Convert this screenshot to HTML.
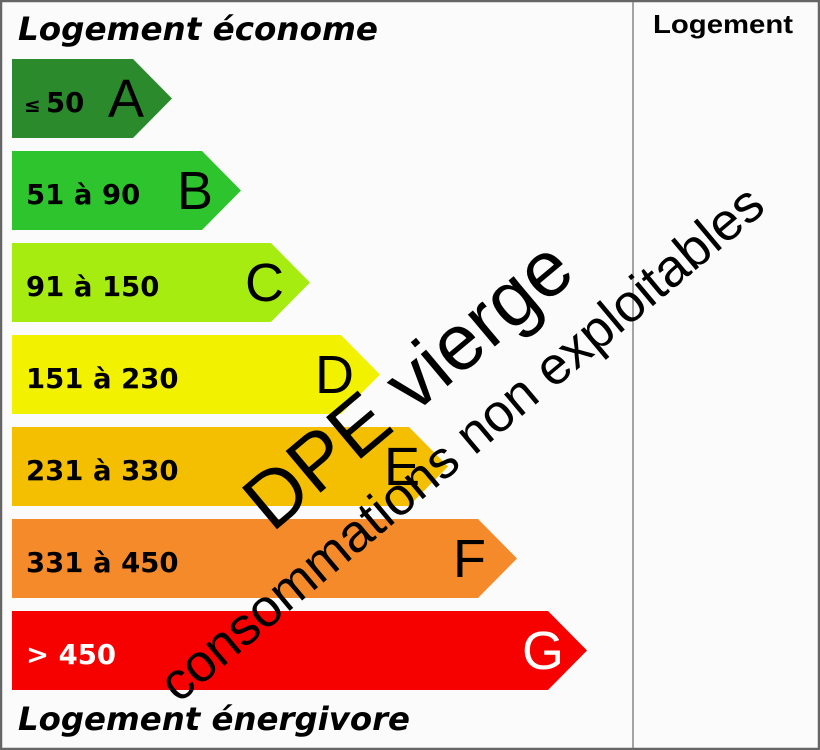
<!DOCTYPE html>
<html><head><style>
html,body{margin:0;padding:0;background:#fff;}
</style></head><body>
<svg width="820" height="750" xmlns="http://www.w3.org/2000/svg" style="display:block">
<rect x="0" y="0" width="820" height="750" fill="#fbfbfb"/>
<rect x="1" y="1" width="818" height="748" fill="none" stroke="#666" stroke-width="2.5"/>
<line x1="633" y1="2" x2="633" y2="748" stroke="#888" stroke-width="1.5"/>
<text x="723" y="33" font-family="Liberation Sans, sans-serif" font-weight="bold" font-size="26" text-anchor="middle" fill="#000" textLength="140" lengthAdjust="spacingAndGlyphs">Logement</text>
<text x="18" y="40" font-family="DejaVu Sans, sans-serif" font-weight="bold" font-style="italic" font-size="32" fill="#000" textLength="360" lengthAdjust="spacingAndGlyphs">Logement économe</text>
<text x="18" y="730" font-family="DejaVu Sans, sans-serif" font-weight="bold" font-style="italic" font-size="32" fill="#000" textLength="392" lengthAdjust="spacingAndGlyphs">Logement énergivore</text>
<g font-family="DejaVu Sans, sans-serif" font-weight="bold" font-size="27.5">
<polygon points="12,59 133,59 172,98.5 133,138 12,138" fill="#2b8a2b"/>
<text x="24" y="112" font-size="20">≤</text><text x="46" y="112">50</text>
<polygon points="12,151 202,151 241,190.5 202,230 12,230" fill="#2ec42e"/>
<text x="26" y="204">51 à 90</text>
<polygon points="12,243 271,243 310,282.5 271,322 12,322" fill="#a6ec10"/>
<text x="26" y="296">91 à 150</text>
<polygon points="12,335 341,335 380,374.5 341,414 12,414" fill="#f2f200"/>
<text x="26" y="388">151 à 230</text>
<polygon points="12,427 409,427 448,466.5 409,506 12,506" fill="#f3bf00"/>
<text x="26" y="480">231 à 330</text>
<polygon points="12,519 478,519 517,558.5 478,598 12,598" fill="#f58a2a"/>
<text x="26" y="572">331 à 450</text>
<polygon points="12,611 548,611 587,650.5 548,690 12,690" fill="#f60000"/>
<text x="26" y="664" fill="#fff">&gt; 450</text>
</g>
<g font-family="Liberation Sans, sans-serif" font-size="54">
<text x="108" y="117">A</text>
<text x="177" y="209">B</text>
<text x="245" y="301">C</text>
<text x="315" y="393">D</text>
<text x="384" y="485">E</text>
<text x="453" y="577">F</text>
<text x="522" y="669" fill="#fff">G</text>
</g>
<text transform="translate(425,405) rotate(-40)" text-anchor="middle" font-family="Liberation Sans, sans-serif" font-size="79" fill="#000">DPE vierge</text>
<text transform="translate(473,457) rotate(-40)" text-anchor="middle" font-family="Liberation Sans, sans-serif" font-size="53" fill="#000">consommations non exploitables</text>
</svg>
</body></html>
